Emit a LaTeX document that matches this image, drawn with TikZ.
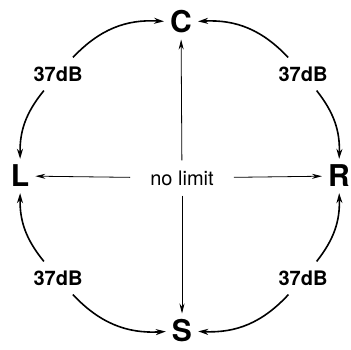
\documentclass[tikz,border=0pt]{standalone}
\usepackage{fontspec}
\setmainfont{TeX Gyre Heros}
\usetikzlibrary{arrows.meta}

\begin{document}
\begin{tikzpicture}[x=1pt, y=1pt,
	chan/.style={font=\fontsize{30}{30}\selectfont\bfseries, inner sep=6pt},
	gain/.style={font=\fontsize{20}{20}\selectfont\bfseries, inner sep=9pt},
	arcarrow/.style={line width=1.6pt, -{Stealth[length=10pt,width=6pt]}},
	thinarrow/.style={line width=0.8pt, -{Stealth[length=10pt,width=5pt]}}]
	\useasboundingbox (0,0) rectangle (351,350);
	% channels
	\node[chan] (C) at (181,328) {C};
	\node[chan] (L) at (20,174) {L};
	\node[chan] (R) at (339,174) {R};
	\node[chan] (S) at (182,19) {S};
	\node[font=\fontsize{20}{20}\selectfont, inner xsep=20pt, inner ysep=10pt] (mid) at (182,172) {no limit};
	% separation labels
	\node[gain] (ul) at (58,276) {37dB};
	\node[gain] (ur) at (303,276) {37dB};
	\node[gain] (ll) at (58,72) {37dB};
	\node[gain] (lr) at (303,72) {37dB};
	\draw[thinarrow] (mid) -- (C);
	\draw[thinarrow] (mid) -- (L);
	\draw[thinarrow] (mid) -- (R);
	\draw[thinarrow] (mid) -- (S);
	\draw[arcarrow] (ul) to[bend left=25] (C);
	\draw[arcarrow] (ul) to[bend right=20] (L);
	\draw[arcarrow] (ur) to[bend right=25] (C);
	\draw[arcarrow] (ur) to[bend left=20] (R);
	\draw[arcarrow] (ll) to[bend left=20] (L);
	\draw[arcarrow] (ll) to[bend right=25] (S);
	\draw[arcarrow] (lr) to[bend right=20] (R);
	\draw[arcarrow] (lr) to[bend left=25] (S);
\end{tikzpicture}
\end{document}
